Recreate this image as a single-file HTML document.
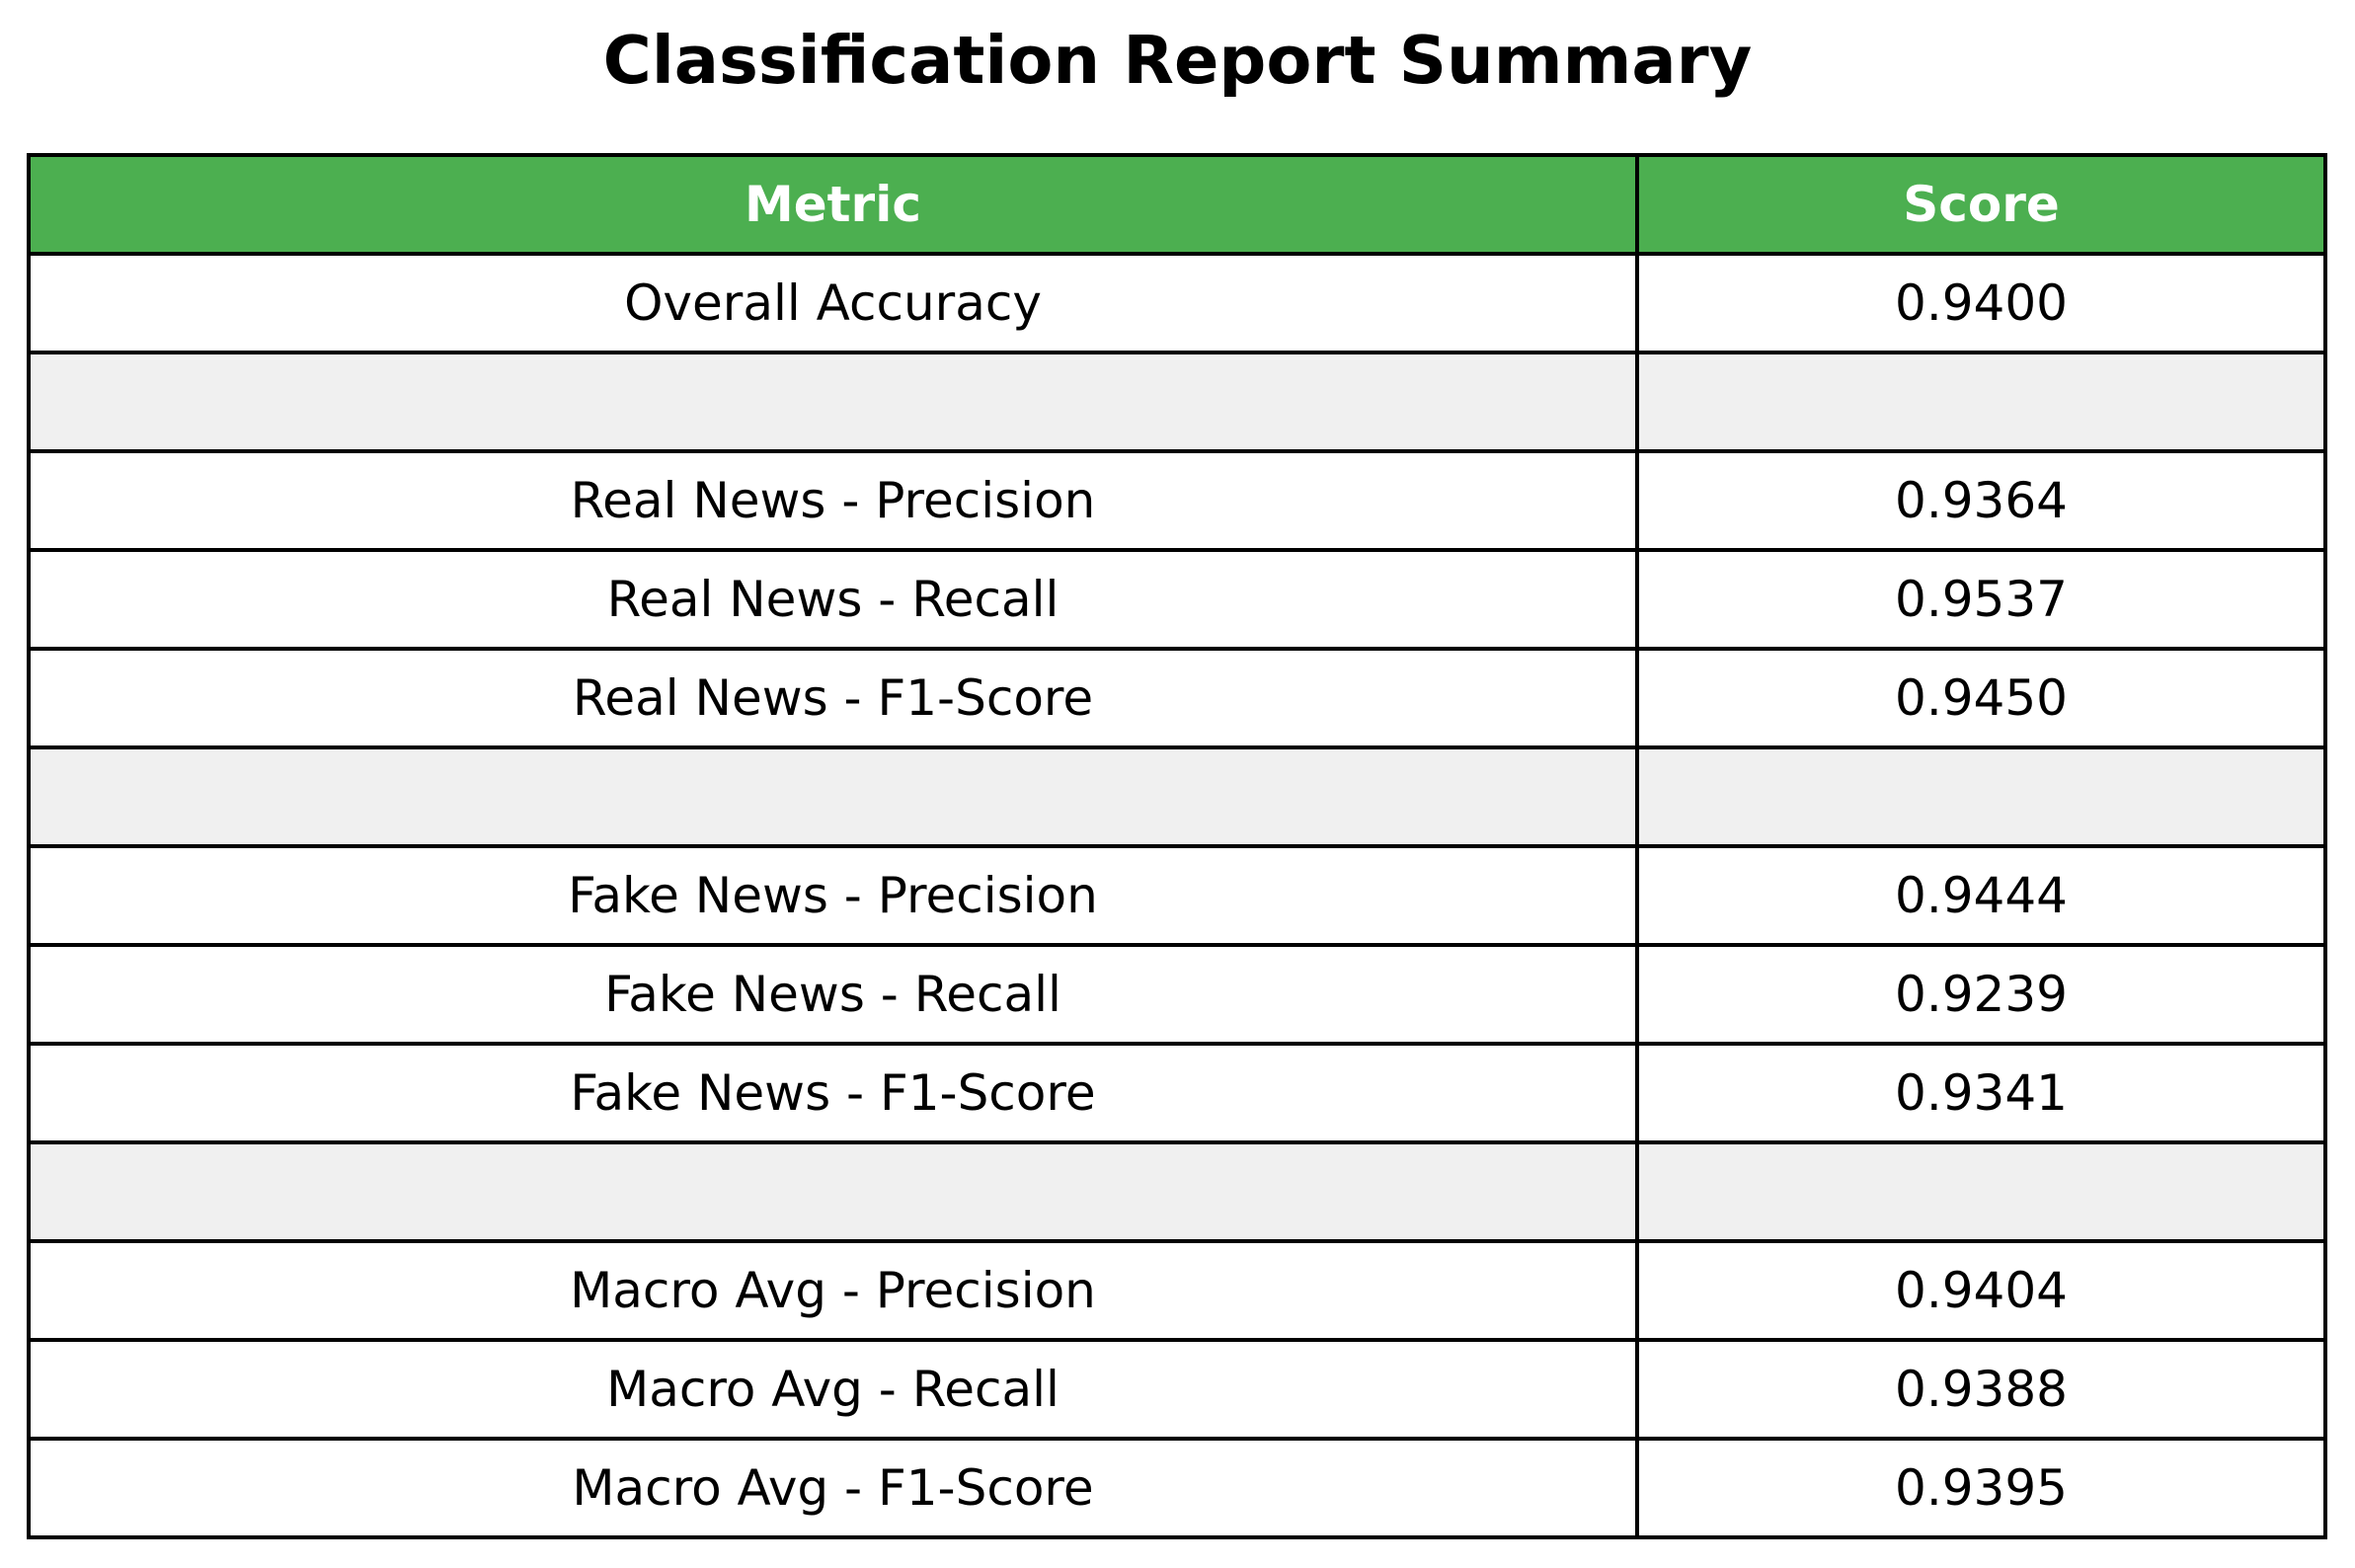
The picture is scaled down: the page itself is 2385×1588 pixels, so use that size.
<!DOCTYPE html>
<html><head><meta charset="utf-8"><style>
body{margin:0;width:2385px;height:1588px;background:#fff;position:relative;overflow:hidden;font-family:"DejaVu Sans","Liberation Sans",sans-serif}
#title{position:absolute;left:0;width:2385px;top:23px;text-align:center;font-weight:bold;font-size:67px;line-height:76px;color:#000}
.cell{position:absolute;box-sizing:border-box;border:4px solid #000;display:flex;align-items:center;justify-content:center;font-size:50px;color:#000}
</style></head><body>
<div id="title">Classification Report Summary</div>
<div id="table"></div>
<script>
const metrics=["Overall Accuracy","","Real News - Precision","Real News - Recall","Real News - F1-Score","","Fake News - Precision","Fake News - Recall","Fake News - F1-Score","","Macro Avg - Precision","Macro Avg - Recall","Macro Avg - F1-Score"];
const scores=["0.9400","","0.9364","0.9537","0.9450","","0.9444","0.9239","0.9341","","0.9404","0.9388","0.9395"];
const headers=["Metric","Score"];
const X0=29,X1=1658,X2=2355,Y0=157,RH=100;
const t=document.getElementById('table');
function mk(x,y,w,h,txt,bg,hdr,name){
  const d=document.createElement('div');
  d.className='cell';
  d.style.left=(x-2)+'px';d.style.top=(y-2)+'px';
  d.style.width=(w+4)+'px';d.style.height=(h+4)+'px';
  d.style.background=bg;
  if(hdr){d.style.color='#fff';d.style.fontWeight='bold';}
  d.textContent=txt;
  
  
  t.appendChild(d);
}
mk(X0,Y0,X1-X0,RH,headers[0],'#4caf50',true,'header-metric');
mk(X1,Y0,X2-X1,RH,headers[1],'#4caf50',true,'header-score');
metrics.forEach((m,i)=>{
  const y=Y0+RH*(i+1);
  const bg=m===''?'#f0f0f0':'#fff';
  mk(X0,y,X1-X0,RH,m,bg,false,'metric-cell');
  mk(X1,y,X2-X1,RH,scores[i],bg,false,'score-cell');
});
</script>
</body></html>
